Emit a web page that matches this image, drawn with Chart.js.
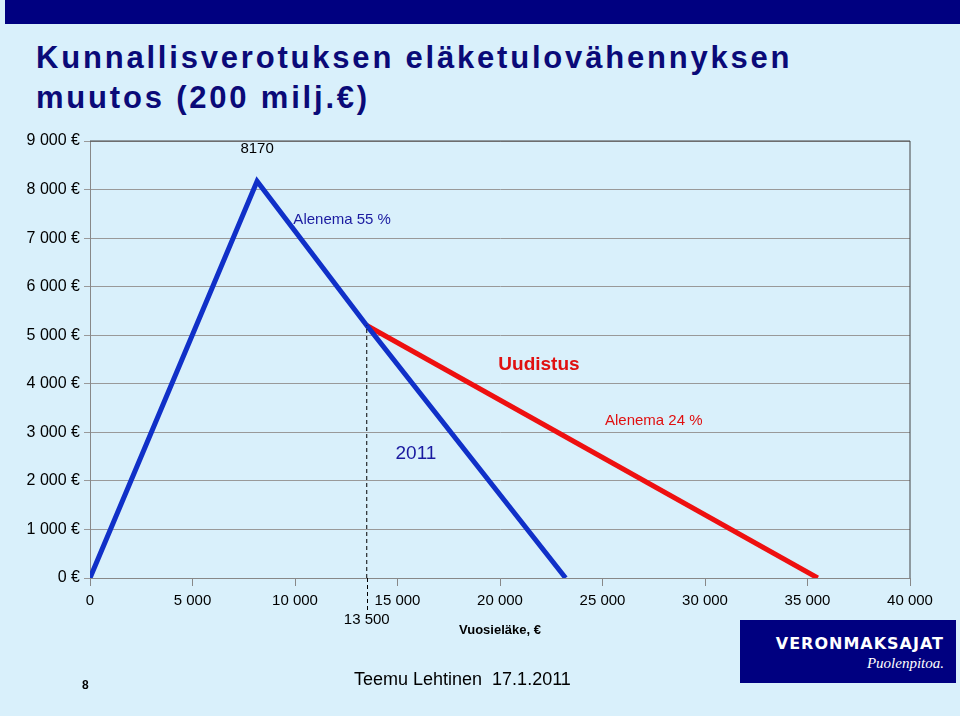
<!DOCTYPE html>
<html><head><meta charset="utf-8">
<script src="https://cdn.jsdelivr.net/npm/chart.js@4"></script>
<style>
body{margin:0;width:960px;height:716px;background:#d9f0fb;position:relative;overflow:hidden;font-family:"Liberation Sans",Arial,sans-serif}
#bar{position:absolute;left:5px;top:0;width:955px;height:24px;background:#000080}
#title{position:absolute;left:36px;top:38px;font-size:31px;font-weight:bold;color:#0a0a78;letter-spacing:2.8px;line-height:40px}
#wrap{position:absolute;left:0;top:0;width:960px;height:716px}
#logo{position:absolute;left:740px;top:620px;width:216px;height:63px;background:#000080;color:#fff}
#logo .a{position:absolute;right:12px;top:14px;font-family:"DejaVu Sans";font-weight:bold;font-size:16px;letter-spacing:1px}
#logo .b{position:absolute;right:12px;top:35px;font-family:"Liberation Serif";font-style:italic;font-size:15px}
#foot{position:absolute;left:354px;top:669px;font-size:18px;color:#000}
#pg{position:absolute;left:82px;top:678px;font-size:12px;font-weight:bold}
</style></head><body>
<div id="bar"></div>
<div id="title">Kunnallisverotuksen eläketulovähennyksen<br>muutos (200 milj.€)</div>
<div id="wrap"><canvas id="chart" width="960" height="716"></canvas></div>
<div id="logo"><div class="a">VERONMAKSAJAT</div><div class="b">Puolenpitoa.</div></div>
<div id="foot">Teemu Lehtinen&nbsp; 17.1.2011</div>
<div id="pg">8</div>
<script>
const currentX = [0, 8150, 13500, 23200];
const currentY = [0, 8170, 5200, 0];
const reformX = [13500, 35500];
const reformY = [5200, 0];
const markerX = 13500;
const xTicks = [0, 5000, 10000, 15000, 20000, 25000, 30000, 35000, 40000];
const yTicks = [0, 1000, 2000, 3000, 4000, 5000, 6000, 7000, 8000, 9000];

const fmt = v => String(v).replace(/\B(?=(\d{3})+(?!\d))/g, ' ');
const pts = (xs, ys) => xs.map((x, i) => ({x: x, y: ys[i]}));

const notes = {
  id: 'notes',
  afterDraw(c) {
    const ctx = c.ctx, x = c.scales.x, y = c.scales.y, a = c.chartArea;
    ctx.save();
    ctx.strokeStyle = '#444'; ctx.lineWidth = 1;
    ctx.beginPath(); ctx.moveTo(a.left, a.top); ctx.lineTo(a.right, a.top); ctx.lineTo(a.right, a.bottom); ctx.stroke();
    // dashed marker continues down to its label
    const mx = Math.round(x.getPixelForValue(markerX)) + 0.5;
    ctx.strokeStyle = '#000'; ctx.setLineDash([4, 3]);
    ctx.beginPath(); ctx.moveTo(mx, a.bottom); ctx.lineTo(mx, a.bottom + 32); ctx.stroke();
    ctx.setLineDash([]);
    ctx.textAlign = 'center'; ctx.textBaseline = 'middle';
    const t = (s, vx, vy, font, col) => { ctx.font = font; ctx.fillStyle = col; ctx.fillText(s, x.getPixelForValue(vx), y.getPixelForValue(vy)); };
    t('8170', 8150, 8830, '15px "Liberation Sans"', '#000');
    t('Alenema 55 %', 12300, 7380, '15px "Liberation Sans"', '#1a1aa0');
    t('Uudistus', 21900, 4400, 'bold 19px "Liberation Sans"', '#e01010');
    t('Alenema 24 %', 27500, 3230, '15px "Liberation Sans"', '#e01010');
    t('2011', 15900, 2550, '19px "Liberation Sans"', '#1a1aa0');
    ctx.font = '15px "Liberation Sans"'; ctx.fillStyle = '#000';
    ctx.fillText(fmt(markerX), x.getPixelForValue(markerX), a.bottom + 42);
    ctx.font = 'bold 13px "Liberation Sans"';
    ctx.fillText('Vuosieläke, €', x.getPixelForValue(20000), a.bottom + 52);
    ctx.restore();
  }
};

new Chart(document.getElementById('chart'), {
  type: 'scatter',
  data: {datasets: [
    {data: pts([markerX, markerX], [0, 5200]), showLine: true, borderColor: '#000', borderWidth: 1, borderDash: [4, 3], pointRadius: 0},
    {data: pts(currentX, currentY), showLine: true, borderColor: '#1030c8', borderWidth: 5, pointRadius: 0},
    {data: pts(reformX, reformY), showLine: true, borderColor: '#ee1010', borderWidth: 5, pointRadius: 0}
  ]},
  options: {
    responsive: false, animation: false,
    layout: {padding: {top: 141, right: 50, left: 0, bottom: 0}},
    plugins: {legend: {display: false}, tooltip: {enabled: false}},
    scales: {
      x: {type: 'linear', min: 0, max: 40000,
        afterBuildTicks: s => { s.ticks = xTicks.map(v => ({value: v})); },
        afterFit: s => { s.height = 138; },
        grid: {drawOnChartArea: false, tickLength: 8, color: '#888'},
        border: {color: '#888'},
        ticks: {color: '#000', font: {size: 15, family: 'Liberation Sans'}, padding: 6, maxRotation: 0, callback: v => fmt(v)}},
      y: {min: 0, max: 9000,
        afterBuildTicks: s => { s.ticks = yTicks.map(v => ({value: v})); },
        afterFit: s => { s.width = 90; },
        grid: {color: '#999', tickLength: 6},
        border: {color: '#888'},
        ticks: {color: '#000', font: {size: 16, family: 'Liberation Sans'}, padding: 4, callback: v => fmt(v) + ' €'}}
    }
  },
  plugins: [notes]
});
</script>
</body></html>
